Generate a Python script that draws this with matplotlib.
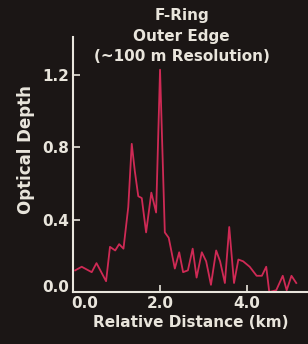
import matplotlib
matplotlib.use("Agg")
import matplotlib.pyplot as plt
from matplotlib.transforms import ScaledTranslation

# Optical depth profile across the F-ring outer edge
distance_km = [0.05, 0.20, 0.43, 0.54, 0.76, 0.85, 0.97, 1.06, 1.16, 1.27,
               1.35, 1.42, 1.50, 1.58, 1.68, 1.80, 1.91, 2.00, 2.11, 2.20,
               2.34, 2.44, 2.53, 2.64, 2.75, 2.84, 2.96, 3.06, 3.17, 3.29,
               3.38, 3.49, 3.59, 3.70, 3.80, 3.91, 4.06, 4.22, 4.34, 4.44,
               4.51, 4.67, 4.82, 4.91, 5.02, 5.13]
optical_depth = [0.12, 0.14, 0.11, 0.16, 0.06, 0.25, 0.23, 0.265, 0.24, 0.47,
                 0.82, 0.67, 0.53, 0.52, 0.33, 0.55, 0.44, 1.23, 0.33, 0.30,
                 0.13, 0.22, 0.11, 0.12, 0.24, 0.08, 0.22, 0.17, 0.04, 0.23,
                 0.17, 0.05, 0.36, 0.05, 0.18, 0.17, 0.14, 0.09, 0.09, 0.14,
                 0.00, 0.01, 0.09, 0.01, 0.09, 0.05]

x_ticks = [0.0, 2.0, 4.0]
y_ticks = [0.0, 0.4, 0.8, 1.2]

BG = "#1b1615"
FG = "#e9e5dc"
LINE = "#cf2a55"

plt.rcParams["font.family"] = ["DejaVu Sans"]
plt.rcParams["font.weight"] = "bold"
plt.rcParams["axes.labelweight"] = "bold"

fig = plt.figure(figsize=(3.08, 3.44), dpi=100, facecolor=BG)
ax = fig.add_axes([0.237, 0.151, 0.763, 0.741], facecolor=BG)

ax.plot(distance_km, optical_depth, color=LINE, lw=1.3)

ax.set_xlim(0, 5.4)
ax.set_ylim(0, 1.41)
ax.set_xticks(x_ticks)
ax.set_xticklabels([f"{v:.1f}" for v in x_ticks])
ax.set_yticks(y_ticks)
ax.set_yticklabels([f"{v:.1f}" for v in y_ticks])
ax.tick_params(colors=FG, direction="in", length=5, width=1.2,
               labelsize=11, pad=3)
ax.tick_params(axis="x", pad=3)
for side in ("top", "right"):
    ax.spines[side].set_visible(False)
for side in ("left", "bottom"):
    ax.spines[side].set_color(FG)
    ax.spines[side].set_linewidth(1.5)

# the two "0.0" labels are nudged apart at the corner, as in the original
fig.canvas.draw()
xl0 = ax.get_xticklabels()[0]
xl0.set_transform(xl0.get_transform() + ScaledTranslation(0.12, 0, fig.dpi_scale_trans))
yl0 = ax.get_yticklabels()[0]
yl0.set_transform(yl0.get_transform() + ScaledTranslation(0, 0.06, fig.dpi_scale_trans))

ax.set_xlabel("Relative Distance (km)", color=FG, fontsize=11, labelpad=3)
ax.set_ylabel("Optical Depth", color=FG, fontsize=12)
ax.yaxis.set_label_coords(-0.16, 0.56)

fig.text(0.59, 0.955, "F-Ring", color=FG, fontsize=11, ha="center", va="center")
fig.text(0.59, 0.895, "Outer Edge", color=FG, fontsize=11, ha="center", va="center")
fig.text(0.59, 0.835, "(~100 m Resolution)", color=FG, fontsize=11,
         ha="center", va="center")

fig.savefig("out.png", dpi=100, facecolor=BG)
